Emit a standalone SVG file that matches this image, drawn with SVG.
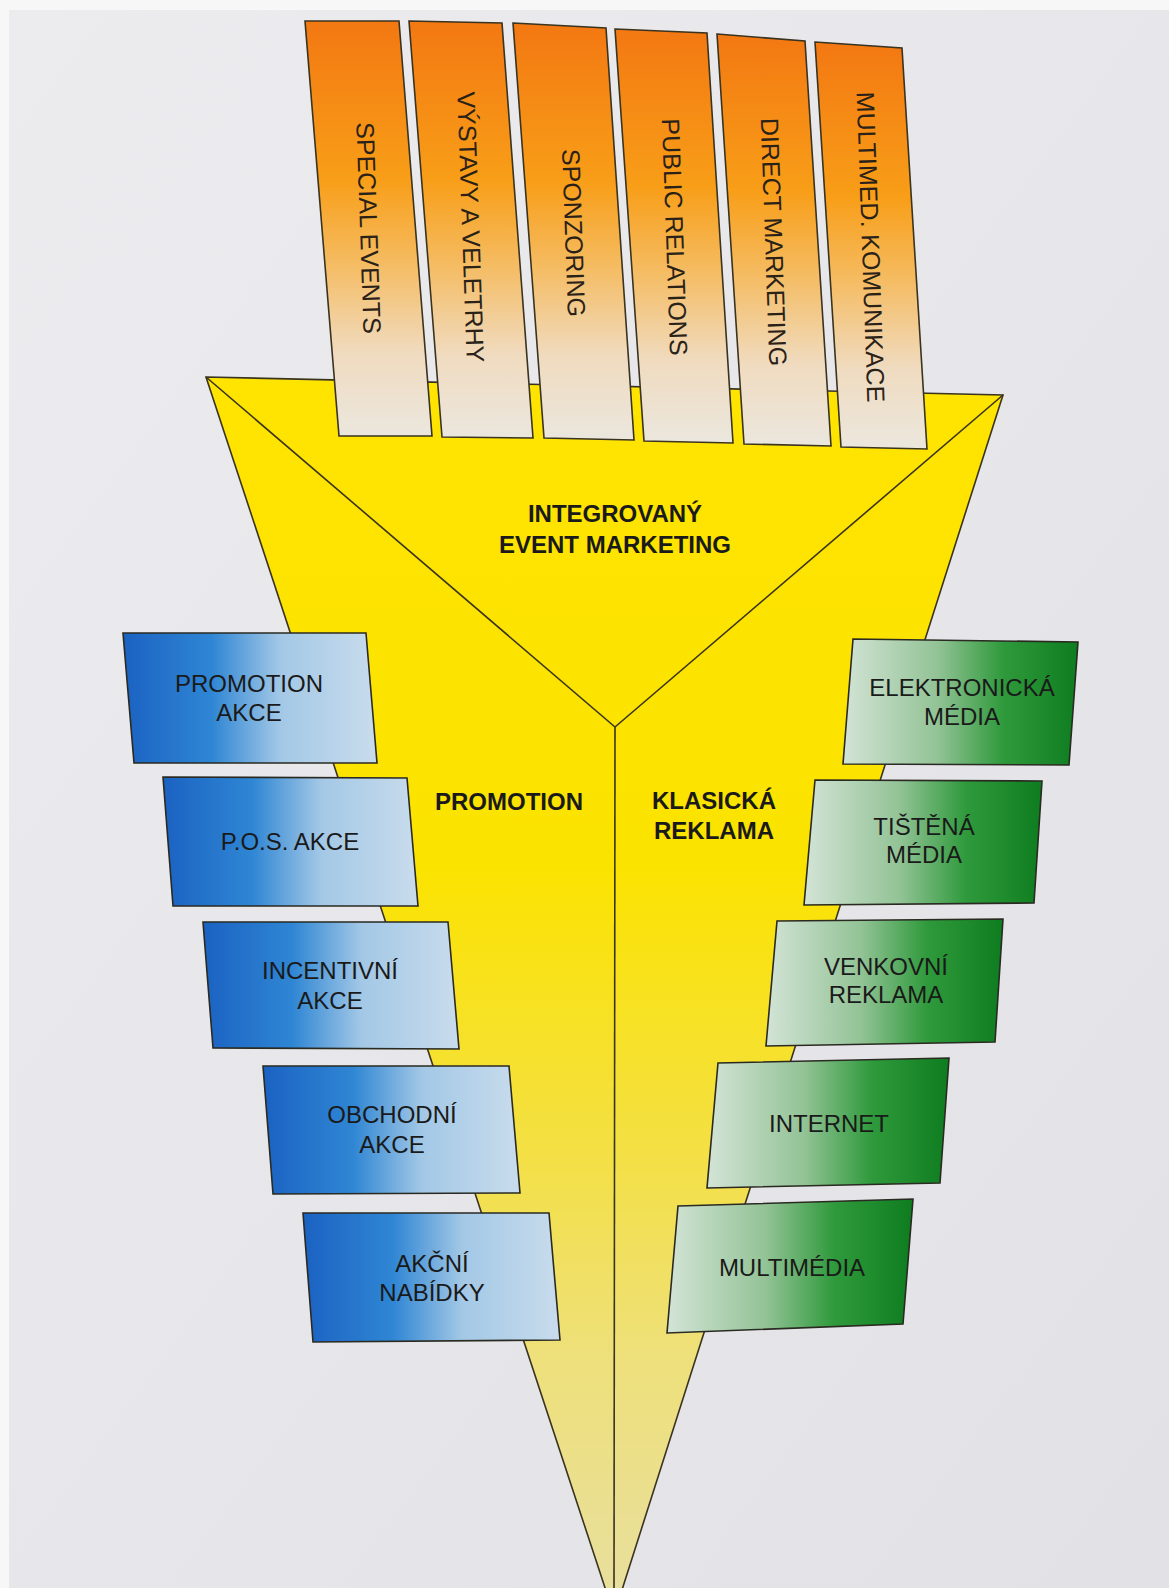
<svg xmlns="http://www.w3.org/2000/svg" width="1169" height="1588" viewBox="0 0 1169 1588">
<defs>
<linearGradient id="paper" x1="0" y1="0" x2="1" y2="1">
<stop offset="0" stop-color="#ececef"/>
<stop offset="1" stop-color="#e2e2e6"/>
</linearGradient>
<linearGradient id="funnel" gradientUnits="userSpaceOnUse" x1="0" y1="377" x2="0" y2="1600">
<stop offset="0" stop-color="#ffe400"/>
<stop offset="0.4" stop-color="#fbe300"/>
<stop offset="0.62" stop-color="#f4e040"/>
<stop offset="0.8" stop-color="#eee07a"/>
<stop offset="1" stop-color="#e8df9e"/>
</linearGradient>
<linearGradient id="orange" x1="0" y1="0" x2="0" y2="1">
<stop offset="0" stop-color="#f37812"/>
<stop offset="0.38" stop-color="#f89e18"/>
<stop offset="0.58" stop-color="#f5bb60"/>
<stop offset="0.8" stop-color="#f0dbbf"/>
<stop offset="1" stop-color="#ebe7de"/>
</linearGradient>
<linearGradient id="blue" x1="0" y1="0" x2="1" y2="0">
<stop offset="0" stop-color="#1b62c2"/>
<stop offset="0.35" stop-color="#2f86d4"/>
<stop offset="0.62" stop-color="#a3c8e6"/>
<stop offset="1" stop-color="#c9dcec"/>
</linearGradient>
<linearGradient id="green" x1="0" y1="0" x2="1" y2="0">
<stop offset="0" stop-color="#d3e4d6"/>
<stop offset="0.4" stop-color="#93c396"/>
<stop offset="0.68" stop-color="#2f9a3c"/>
<stop offset="1" stop-color="#0e7d1f"/>
</linearGradient>
<style>
.edge{stroke:#3a3320;stroke-width:1.6;fill:none;stroke-linejoin:miter}
.strip{fill:url(#orange);stroke:#3a3320;stroke-width:1.6}
.bbox{fill:url(#blue);stroke:#2a2a22;stroke-width:1.6}
.gbox{fill:url(#green);stroke:#2a2a22;stroke-width:1.6}
.t{font-family:"Liberation Sans",Arial,sans-serif;font-size:24px;fill:#1a1a1a;text-anchor:middle}
.b{font-family:"Liberation Sans",Arial,sans-serif;font-size:24px;font-weight:bold;fill:#1a1a1a;text-anchor:middle}
.v{font-family:"Liberation Sans",Arial,sans-serif;font-size:25px;fill:#2a2218;text-anchor:middle}
</style>
</defs>
<rect x="0" y="0" width="1169" height="1588" fill="#f7f7f8"/>
<rect x="9" y="10" width="1160" height="1578" fill="url(#paper)"/>

<g id="funnel">
<polygon points="206,377 1003,395 614,1615" class="edge" style="fill:url(#funnel)"/>
</g>

<g id="connectors">
<line x1="206" y1="377" x2="615" y2="727" class="edge"/>
<line x1="1003" y1="395" x2="615" y2="727" class="edge"/>
<line x1="615" y1="727" x2="614" y2="1588" class="edge"/>
</g>

<g id="center-labels">
<text class="b" x="615" y="522">INTEGROVANÝ</text>
<text class="b" x="615" y="553">EVENT MARKETING</text>
<text class="b" x="509" y="810">PROMOTION</text>
<text class="b" x="714" y="809">KLASICKÁ</text>
<text class="b" x="714" y="839">REKLAMA</text>
</g>

<g id="strip-special-events">
<polygon class="strip" points="305,21 399,21 432,436 339,436"/>
<text class="v" transform="translate(369,228) rotate(88)" y="9">SPECIAL EVENTS</text>
</g>
<g id="strip-vystavy">
<polygon class="strip" points="409,21 502,23 533,438 442,437"/>
<text class="v" transform="translate(471,227) rotate(88)" y="9">VÝSTAVY A VELETRHY</text>
</g>
<g id="strip-sponzoring">
<polygon class="strip" points="513,23 606,28 634,440 544,438"/>
<text class="v" transform="translate(574,233) rotate(88)" y="9">SPONZORING</text>
</g>
<g id="strip-pr">
<polygon class="strip" points="615,29 707,33 733,443 644,441"/>
<text class="v" transform="translate(675,237) rotate(88)" y="9">PUBLIC RELATIONS</text>
</g>
<g id="strip-dm">
<polygon class="strip" points="717,34 805,41 831,446 744,444"/>
<text class="v" transform="translate(774,242) rotate(88)" y="9">DIRECT MARKETING</text>
</g>
<g id="strip-multimed">
<polygon class="strip" points="815,42 902,48 927,449 841,447"/>
<text class="v" transform="translate(871,247) rotate(88)" y="9">MULTIMED. KOMUNIKACE</text>
</g>

<g id="promotion-akce">
<polygon class="bbox" points="123,633 366,633 377,763 134,763"/>
<text class="t" x="249" y="692">PROMOTION</text>
<text class="t" x="249" y="721">AKCE</text>
</g>
<g id="pos-akce">
<polygon class="bbox" points="163,777 407,778 418,906 173,906"/>
<text class="t" x="290" y="850">P.O.S. AKCE</text>
</g>
<g id="incentivni-akce">
<polygon class="bbox" points="203,922 448,922 459,1049 213,1048"/>
<text class="t" x="330" y="979">INCENTIVNÍ</text>
<text class="t" x="330" y="1009">AKCE</text>
</g>
<g id="obchodni-akce">
<polygon class="bbox" points="263,1066 509,1066 520,1193 273,1194"/>
<text class="t" x="392" y="1123">OBCHODNÍ</text>
<text class="t" x="392" y="1153">AKCE</text>
</g>
<g id="akcni-nabidky">
<polygon class="bbox" points="303,1213 549,1213 560,1340 313,1342"/>
<text class="t" x="432" y="1272">AKČNÍ</text>
<text class="t" x="432" y="1301">NABÍDKY</text>
</g>

<g id="elektronicka-media">
<polygon class="gbox" points="853,639 1078,642 1069,765 843,764"/>
<text class="t" x="962" y="696">ELEKTRONICKÁ</text>
<text class="t" x="962" y="725">MÉDIA</text>
</g>
<g id="tistena-media">
<polygon class="gbox" points="815,780 1042,781 1034,903 804,905"/>
<text class="t" x="924" y="835">TIŠTĚNÁ</text>
<text class="t" x="924" y="863">MÉDIA</text>
</g>
<g id="venkovni-reklama">
<polygon class="gbox" points="777,921 1003,919 995,1042 766,1046"/>
<text class="t" x="886" y="975">VENKOVNÍ</text>
<text class="t" x="886" y="1003">REKLAMA</text>
</g>
<g id="internet">
<polygon class="gbox" points="718,1063 949,1058 940,1183 707,1188"/>
<text class="t" x="829" y="1132">INTERNET</text>
</g>
<g id="multimedia">
<polygon class="gbox" points="678,1206 913,1199 903,1324 667,1333"/>
<text class="t" x="792" y="1276">MULTIMÉDIA</text>
</g>
</svg>
